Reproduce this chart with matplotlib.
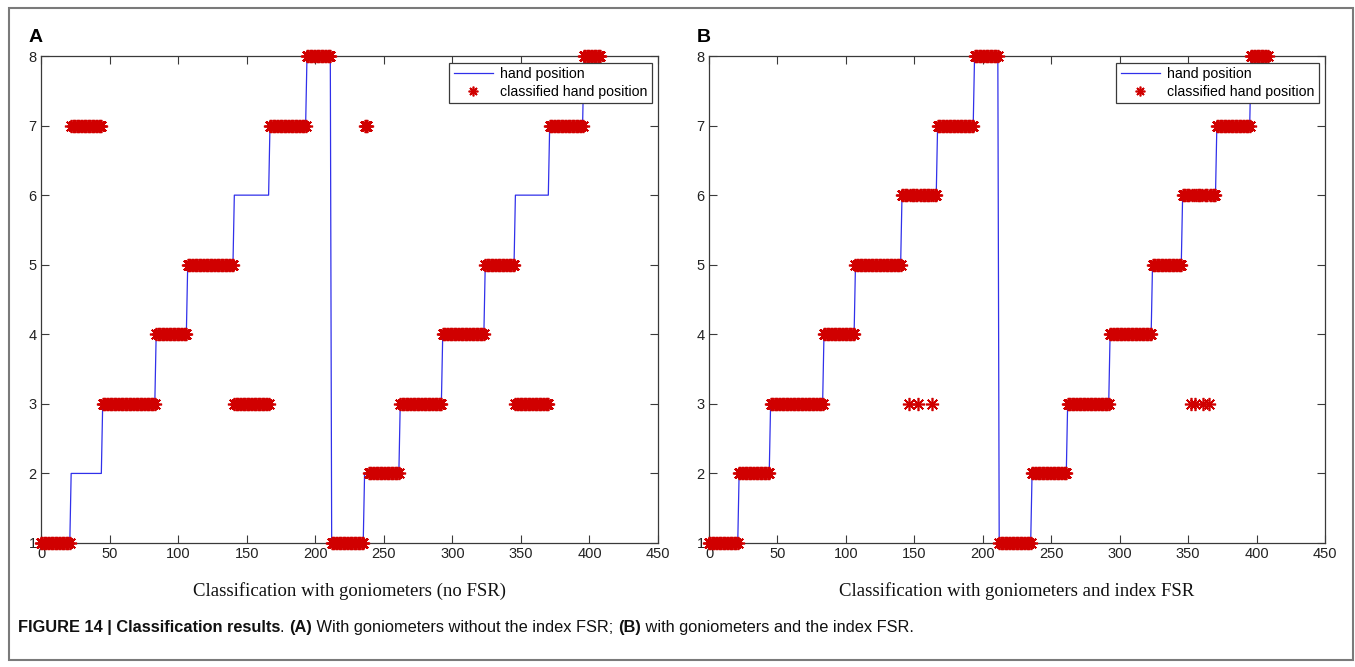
import numpy as np
import matplotlib
matplotlib.use("Agg")
import matplotlib.pyplot as plt
from matplotlib.patches import Rectangle

# True hand position: level of each run and its length in samples
true_levels = [1, 2, 3, 4, 5, 6, 7, 8, 1, 2, 3, 4, 5, 6, 7, 8]
true_lengths = [22, 23, 39, 23, 34, 26, 27, 18, 24, 26, 31, 31, 22, 25, 25, 13]

# Classifier output, goniometers only (runs of label / length)
cls_a_levels = [1, 7, 3, 4, 5, 3, 7, 8, 1, 7, 2, 3, 4, 5, 3, 7, 8]
cls_a_lengths = [22, 23, 39, 23, 34, 26, 27, 18, 24, 3, 23, 31, 31, 22, 25, 25, 13]

# Classifier output, goniometers plus index FSR
cls_b_levels = [1, 2, 3, 4, 5, 6, 3, 6, 3, 6, 3, 6, 7, 8,
                1, 2, 3, 4, 5, 6, 3, 6, 3, 6, 3, 6, 3, 6, 7, 8]
cls_b_lengths = [22, 23, 39, 23, 34, 5, 1, 6, 1, 9, 1, 3, 27, 18,
                 24, 26, 31, 31, 22, 6, 1, 2, 1, 5, 1, 3, 1, 5, 25, 13]

x_ticks = [0, 50, 100, 150, 200, 250, 300, 350, 400, 450]
y_ticks = [1, 2, 3, 4, 5, 6, 7, 8]

panel_titles = ["Classification with goniometers (no FSR)",
                "Classification with goniometers and index FSR"]
panel_letters = ["A", "B"]

W, H = 1355, 667
fig = plt.figure(figsize=(W / 100, H / 100), dpi=100)
fig.patch.set_facecolor("white")

SANS = ["Liberation Sans", "DejaVu Sans"]
SERIF = ["Liberation Serif", "DejaVu Serif"]
NARROW = ["Liberation Sans Narrow", "Liberation Sans", "DejaVu Sans"]


def px_box(left, top, right, bottom):
    return [left / W, (H - bottom) / H, (right - left) / W, (bottom - top) / H]


truth = np.repeat(true_levels, true_lengths)
samples = np.arange(len(truth))

panels = [
    (px_box(41, 56, 658, 543), np.repeat(cls_a_levels, cls_a_lengths)),
    (px_box(709, 56, 1325, 543), np.repeat(cls_b_levels, cls_b_lengths)),
]

line_col = "#3030ea"
star_col = "#d00000"
spine_col = "#3a3a3a"

for i, (box, cls) in enumerate(panels):
    ax = fig.add_axes(box)
    ax.plot(samples, truth, color=line_col, lw=0.9, label="hand position", zorder=2)
    ax.plot(samples[:len(cls)], cls, linestyle="none", marker=(8, 2, 0),
            markersize=9.5, markeredgewidth=1.2, color=star_col,
            markeredgecolor=star_col, label="classified hand position",
            clip_on=False, zorder=3)
    ax.set_xlim(0, 450)
    ax.set_ylim(1, 8)
    ax.set_xticks(x_ticks)
    ax.set_yticks(y_ticks)
    ax.tick_params(direction="in", length=6, width=0.8, color=spine_col,
                   top=True, right=True, labelsize=10.5, labelcolor="#222222", pad=3)
    for lab in ax.get_xticklabels() + ax.get_yticklabels():
        lab.set_family(SANS)
    for sp in ax.spines.values():
        sp.set_color(spine_col)
        sp.set_linewidth(0.9)
    ax.set_xlabel(panel_titles[i], family=SERIF, fontsize=13.5, labelpad=15,
                  color="#111111")
    leg = ax.legend(loc="upper right", bbox_to_anchor=(0.990, 0.986),
                    borderaxespad=0, fancybox=False, framealpha=1,
                    edgecolor=spine_col, numpoints=1, handlelength=2.75,
                    handletextpad=0.5, borderpad=0.32, labelspacing=0.24,
                    prop={"family": SANS, "size": 10.2})
    leg.get_frame().set_linewidth(0.9)
    for h in leg.legend_handles:
        if hasattr(h, "set_markersize"):
            h.set_markersize(7)
    # panel letter
    fig.text((box[0] * W - 12) / W, (H - 42) / H, panel_letters[i],
             family=SANS, weight="bold", fontsize=14, ha="left", va="baseline")

# outer frame
fig.add_artist(Rectangle((9 / W, (H - 660) / H), (1353 - 9) / W, (660 - 8) / H,
                         transform=fig.transFigure, fill=False,
                         edgecolor="#7a7a7a", lw=1.5))

# caption with mixed weights
caption = [
    ("FIGURE 14 | Classification results", "bold"),
    (". ", "normal"),
    ("(A)", "bold"),
    (" With goniometers without the index FSR; ", "normal"),
    ("(B)", "bold"),
    (" with goniometers and the index FSR.", "normal"),
]
renderer = fig.canvas.get_renderer()
x_px = 18
y_px = H - 632
for text, weight in caption:
    t = fig.text(x_px / W, y_px / H, text, family=NARROW, weight=weight,
                 fontsize=11.8, ha="left", va="baseline", color="#111111")
    bb = t.get_window_extent(renderer)
    x_px += bb.width

fig.savefig("out.png", dpi=100, facecolor="white")
